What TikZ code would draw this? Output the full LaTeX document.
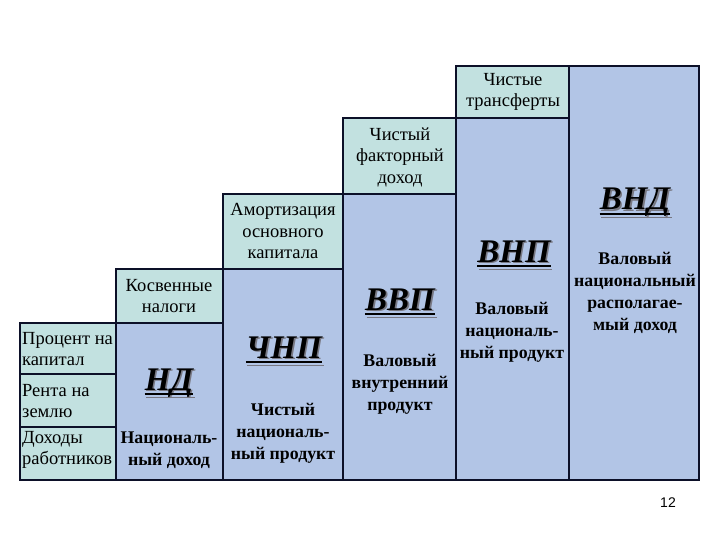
\documentclass[tikz,border=0pt]{standalone}
\usepackage{fontspec}
\setmainfont{Liberation Serif}
\newfontfamily\tnr{Liberation Serif}
\newfontfamily\numfont{Liberation Sans}
\definecolor{tealc}{RGB}{194,225,224}
\definecolor{bluec}{RGB}{178,197,230}
\definecolor{edgec}{RGB}{12,16,40}
\definecolor{shadowc}{RGB}{120,120,130}
\begin{document}
\begin{tikzpicture}[x=1pt,y=-1pt,
  cellline/.style={draw=edgec, line width=1.3pt},
  light/.style={cellline, fill=tealc},
  dark/.style={cellline, fill=bluec},
  lbl/.style={font=\tnr\fontsize{18.5}{21.5}\selectfont, align=center, inner sep=0},
  lbll/.style={lbl, align=left, anchor=west},
  desc/.style={font=\tnr\fontsize{17.8}{22}\selectfont\bfseries, align=center, inner sep=0},
  big/.style={font=\tnr\fontsize{33}{36}\selectfont\bfseries\itshape, inner sep=0, anchor=base},
  bigshadow/.style={big, text=shadowc, xshift=1.6pt, yshift=-1.6pt},
  uline/.style={line width=2pt, draw=black},
  ushadow/.style={line width=1.6pt, draw=shadowc}
]
\useasboundingbox (0,0) rectangle (720,540);
% column 1
\path[light] (20,323) rectangle (116,374);
\path[light] (20,374) rectangle (116,427);
\path[light] (20,427) rectangle (116,480);
% column 2
\path[light] (116,269) rectangle (223,323);
\path[dark] (116,323) rectangle (223,480);
% column 3
\path[light] (223,194) rectangle (343,269);
\path[dark] (223,269) rectangle (343,480);
% column 4
\path[light] (343,118) rectangle (456,194);
\path[dark] (343,194) rectangle (456,480);
% column 5
\path[light] (456,66) rectangle (569,118);
\path[dark] (456,118) rectangle (569,480);
% column 6
\path[dark] (569,66) rectangle (699,480);
% outline
\draw[draw=edgec, line width=2pt, line join=miter] (20,480) -- (20,323) -- (116,323) -- (116,269) -- (223,269) -- (223,194) -- (343,194) -- (343,118) -- (456,118) -- (456,66) -- (699,66) -- (699,480) -- cycle;

% light labels
\node[lbl] (trans) at (513,92) {Чистые\\трансферты};
\node[lbl] (factor) at (400,157) {Чистый\\факторный\\доход};
\node[lbl] (amort) at (283,231) {Амортизация\\основного\\капитала};
\node[lbl] (kosv) at (169,296) {Косвенные\\налоги};
\node[lbll] (proc) at (22,349) {Процент на\\капитал};
\node[lbll] (renta) at (22,401) {Рента на\\землю};
\node[lbll] (doh) at (22,450) {Доходы\\работников};

% descriptions
\node[desc] (nddesc) at (169,450) {Националь-\\ный доход};
\node[desc] (chnpdesc) at (283,433) {Чистый\\националь-\\ный продукт};
\node[desc] (vvpdesc) at (400,384) {Валовый\\внутренний\\продукт};
\node[desc] (vnpdesc) at (512,332) {Валовый\\националь-\\ный продукт};
\node[desc] (vnddesc) at (635,293) {Валовый\\национальный\\располагае-\\мый доход};

% big abbreviations with shadow and underline
\node[bigshadow] (nds) at (169,390) {НД};
\draw[ushadow] ([yshift=-6pt]nds.base west) -- ([yshift=-6pt]nds.base east);
\node[big] (nd) at (169,390) {НД};
\draw[uline] ([yshift=-4pt]nd.base west) -- ([yshift=-4pt]nd.base east);

\node[bigshadow] (chnps) at (284,358) {ЧНП};
\draw[ushadow] ([yshift=-6pt]chnps.base west) -- ([yshift=-6pt]chnps.base east);
\node[big] (chnp) at (284,358) {ЧНП};
\draw[uline] ([yshift=-4pt]chnp.base west) -- ([yshift=-4pt]chnp.base east);

\node[bigshadow] (vvps) at (400,310) {ВВП};
\draw[ushadow] ([yshift=-6pt]vvps.base west) -- ([yshift=-6pt]vvps.base east);
\node[big] (vvp) at (400,310) {ВВП};
\draw[uline] ([yshift=-4pt]vvp.base west) -- ([yshift=-4pt]vvp.base east);

\node[bigshadow] (vnps) at (514,262) {ВНП};
\draw[ushadow] ([yshift=-6pt]vnps.base west) -- ([yshift=-6pt]vnps.base east);
\node[big] (vnp) at (514,262) {ВНП};
\draw[uline] ([yshift=-4pt]vnp.base west) -- ([yshift=-4pt]vnp.base east);

\node[bigshadow] (vnds) at (635,210) {ВНД};
\draw[ushadow] ([yshift=-6pt]vnds.base west) -- ([yshift=-6pt]vnds.base east);
\node[big] (vnd) at (635,210) {ВНД};
\draw[uline] ([yshift=-4pt]vnd.base west) -- ([yshift=-4pt]vnd.base east);

% page number
\node[font=\numfont\fontsize{14}{14}\selectfont, inner sep=0] (pg) at (668,503) {12};
\end{tikzpicture}
\end{document}
